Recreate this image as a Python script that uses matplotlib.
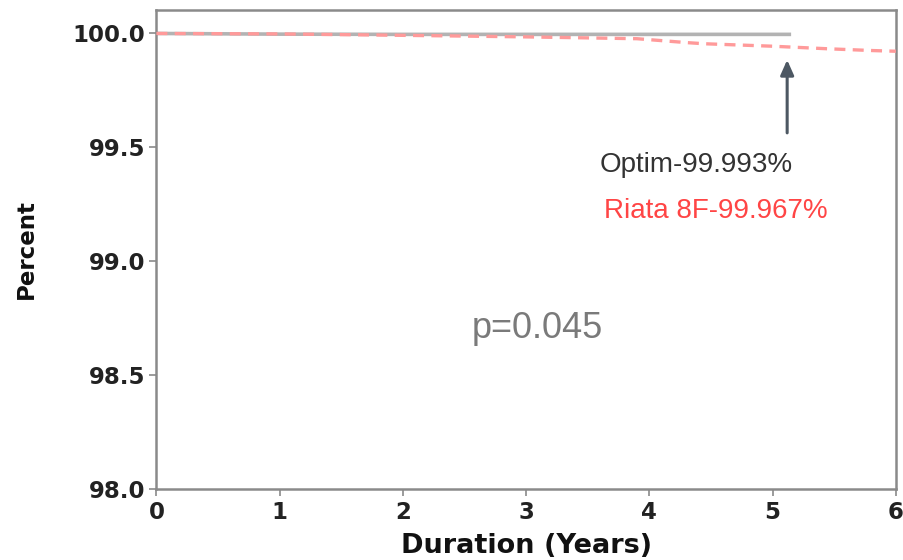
import matplotlib
matplotlib.use("Agg")
import matplotlib.pyplot as plt

# Data
optim_years = [0.0, 1.0, 2.0, 5.15]
optim_pct = [100.0, 99.997, 99.996, 99.996]

riata_years = [0.0, 1.0, 1.81, 2.27, 3.0, 3.9, 4.3, 4.44, 5.0, 5.12, 5.44, 5.81, 6.0]
riata_pct = [100.0, 99.998, 99.993, 99.990, 99.985, 99.977, 99.960, 99.955, 99.944, 99.941, 99.933, 99.925, 99.922]

x_ticks = [0, 1, 2, 3, 4, 5, 6]
y_ticks = [98.0, 98.5, 99.0, 99.5, 100.0]
y_tick_labels = ["98.0", "98.5", "99.0", "99.5", "100.0"]

label_optim = "Optim-99.993%"
label_riata = "Riata 8F-99.967%"
p_text = "p=0.045"

fig = plt.figure(figsize=(9.04, 5.6), dpi=100)
ax = fig.add_axes([0.173, 0.126, 0.818, 0.857])

ax.plot(optim_years, optim_pct, color="#b3b3b3", lw=2.6, solid_capstyle="butt", zorder=2)
ax.plot(riata_years, riata_pct, color="#ff9a9a", lw=2.4, ls=(0, (3.3, 2.2)), zorder=3)

ax.annotate("", xy=(5.118, 99.884), xytext=(5.118, 99.564),
            arrowprops=dict(arrowstyle="-|>,head_width=0.4,head_length=0.9",
                            color="#4d5863", lw=2.2, shrinkA=0, shrinkB=0))

ax.text(3.60, 99.423, label_optim, color="#333333", fontsize=20,
        family="Liberation Sans", ha="left", va="center")
ax.text(3.63, 99.221, label_riata, color="#ff4545", fontsize=20,
        family="Liberation Sans", ha="left", va="center")
ax.text(3.095, 98.708, p_text, color="#7a7a7a", fontsize=26,
        family="Liberation Sans", ha="center", va="center")

ax.set_xlim(0, 6)
ax.set_ylim(98.0, 100.105)
ax.set_xticks(x_ticks)
ax.set_yticks(y_ticks)
ax.set_yticklabels(y_tick_labels)

for s in ax.spines.values():
    s.set_color("#8a8a8a")
    s.set_linewidth(1.8)
ax.tick_params(axis="both", direction="out", length=5, width=1.2, color="#8a8a8a",
               labelsize=16.5, labelcolor="#222222", pad=3)
for lab in ax.get_xticklabels() + ax.get_yticklabels():
    lab.set_fontweight("bold")

ax.set_xlabel("Duration (Years)", fontsize=19.5, fontweight="bold", color="#111111", labelpad=7)
ax.set_ylabel("Percent", fontsize=16.5, fontweight="bold", color="#111111", labelpad=25)

fig.savefig("out.png", dpi=100)
